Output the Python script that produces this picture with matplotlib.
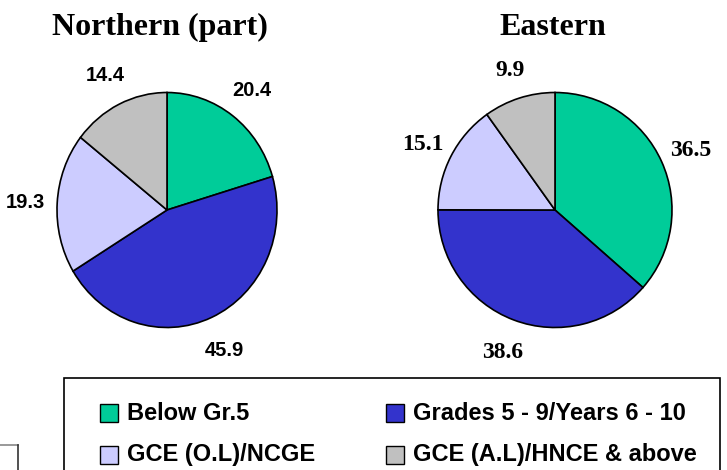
import matplotlib.pyplot as plt
import numpy as np
from matplotlib.patches import Rectangle
from matplotlib.lines import Line2D

# data
categories = ['Below Gr.5', 'Grades 5 - 9/Years 6 - 10',
              'GCE (O.L)/NCGE', 'GCE (A.L)/HNCE & above']
northern = [20.4, 45.9, 19.3, 14.4]
eastern = [36.5, 38.6, 15.1, 9.9]
colors = ['#00CC99', '#3333CC', '#CCCCFF', '#C0C0C0']

W, H = 727, 470
fig = plt.figure(figsize=(W / 100, H / 100), dpi=100)
PAD = 1.5


def pie_axes(cx, cy, rx, ry):
    # axes placed in pixel units (y measured from top), radius 1 -> rx, ry
    left = (cx - rx * PAD) / W
    bottom = 1 - (cy + ry * PAD) / H
    return fig.add_axes([left, bottom, 2 * rx * PAD / W, 2 * ry * PAD / H])


def draw_pie(ax, values, title, tx, font, fsize, lab_r=1.28):
    wedges, _ = ax.pie(values, colors=colors, startangle=90, counterclock=False,
                       wedgeprops=dict(edgecolor='black', linewidth=1.2))
    ax.set_aspect('auto')
    ax.set_xlim(-PAD, PAD)
    ax.set_ylim(-PAD, PAD)
    ax.axis('off')
    for w, v in zip(wedges, values):
        mid = np.deg2rad((w.theta1 + w.theta2) / 2)
        ax.text(lab_r * np.cos(mid), lab_r * np.sin(mid), f'{v:.1f}',
                ha='center', va='center_baseline', fontsize=fsize,
                fontweight='bold', family=font)
    fig.text(tx / W, 1 - 35 / H, title, ha='center', va='baseline',
             fontsize=23, fontweight='bold', family='Liberation Serif')


ax1 = pie_axes(167, 210, 110, 117.5)
draw_pie(ax1, northern, 'Northern (part)', 160, 'Liberation Sans', 14.5, 1.29)

ax2 = pie_axes(555, 210, 117, 117.5)
draw_pie(ax2, eastern, 'Eastern', 553, 'Liberation Serif', 17, 1.27)

# legend frame (runs past the bottom edge)
fig.patches.append(Rectangle((64 / W, -0.1), (720 - 64) / W, 1 - 378 / H + 0.1,
                             transform=fig.transFigure, fill=False,
                             edgecolor='black', linewidth=1.2))

# partial box at far left
fig.lines.append(Line2D([0, 18 / W], [1 - 445 / H, 1 - 445 / H],
                        transform=fig.transFigure, color='#888888', lw=1.2))
fig.lines.append(Line2D([18 / W, 18 / W], [1 - 445 / H, -0.05],
                        transform=fig.transFigure, color='#333333', lw=1.2))

col_x = [100, 386]
row_y = [413, 455]
sq = 18
for i, (cat, col) in enumerate(zip(categories, colors)):
    x = col_x[i % 2]
    y = row_y[i // 2]
    fig.patches.append(Rectangle((x / W, 1 - (y + sq / 2) / H), sq / W, sq / H,
                                 transform=fig.transFigure, facecolor=col,
                                 edgecolor='black', linewidth=1.0))
    fig.text((x + 27) / W, 1 - y / H, cat, ha='left', va='center',
             fontsize=17, fontweight='bold', family='Liberation Sans')

fig.savefig('out.png', dpi=100)
